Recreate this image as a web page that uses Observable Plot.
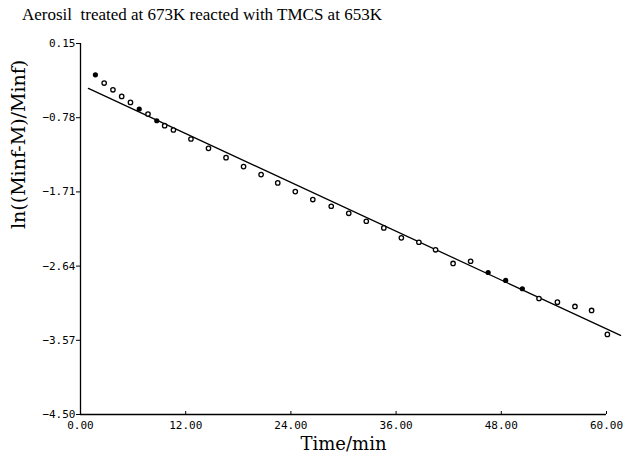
<!DOCTYPE html>
<html>
<head>
<meta charset="utf-8">
<script src="https://cdn.jsdelivr.net/npm/d3@7"></script>
<script src="https://cdn.jsdelivr.net/npm/@observablehq/plot@0.6"></script>
<style>
  html, body { margin: 0; padding: 0; background: #fff; }
  #wrap { width: 632px; height: 459px; position: relative; overflow: hidden; }
  #title { height: 30px; line-height: 30px; padding-left: 22px; white-space: pre;
           font-family: "Liberation Serif", serif; font-size: 17px; color: #000; }
</style>
</head>
<body>
<div id="wrap">
  <div id="title">Aerosil  treated at 673K reacted with TMCS at 653K</div>
  <div id="chart"></div>
</div>
<script>
// Measured data (time in min, ln((Minf-M)/Minf))
const times = [1.7, 2.7, 3.7, 4.7, 5.7, 6.7, 7.7, 8.7, 9.6, 10.6,
  12.6, 14.6, 16.6, 18.6, 20.6, 22.5, 24.5, 26.5, 28.6, 30.6,
  32.6, 34.6, 36.6, 38.6, 40.5, 42.5, 44.5, 46.5, 48.5, 50.4,
  52.3, 54.4, 56.4, 58.3, 60.1];
const values = [-0.242, -0.346, -0.430, -0.513, -0.588, -0.671, -0.734, -0.818, -0.880, -0.934,
  -1.047, -1.164, -1.281, -1.393, -1.493, -1.597, -1.706, -1.806, -1.890, -1.978,
  -2.078, -2.161, -2.286, -2.341, -2.436, -2.607, -2.579, -2.720, -2.820, -2.924,
  -3.046, -3.092, -3.146, -3.196, -3.496];
// which markers are drawn filled in the original
const filled = [1,0,0,0,0,1,0,1,0,0, 0,0,0,0,0,0,0,0,0,0, 0,0,0,0,0,0,0,1,1,1, 0,0,0,0,0];
// fitted line endpoints
const fitT = [0.9, 61.6];
const fitV = [-0.413, -3.509];
// tick labels
const xTicks = [0, 12, 24, 36, 48, 60];
const yTicks = [0.15, -0.78, -1.71, -2.64, -3.57, -4.50];
const xLabel = "Time/min";
const yLabel = "ln((Minf-M)/Minf)";

const pts = times.map((t, i) => ({t, v: values[i], f: filled[i] === 1}));
const fit = fitT.map((t, i) => ({t, v: fitV[i]}));

const chart = Plot.plot({
  width: 632,
  height: 429,
  marginLeft: 80,
  marginRight: 26,
  marginTop: 13,
  marginBottom: 45,
  style: {fontFamily: "DejaVu Sans Mono", fontSize: "11px", color: "#000", background: "#fff"},
  x: {domain: [0, 60]},
  y: {domain: [-4.5, 0.15]},
  marks: [
    Plot.axisX({ticks: xTicks, tickFormat: d3.format(".2f"), tickSize: -3, tickPadding: 10, label: null}),
    Plot.axisY({ticks: yTicks, tickFormat: d3.format(".2f"), tickSize: 4, tickPadding: 1, label: null}),
    Plot.ruleX([0], {stroke: "#000", strokeWidth: 1.3}),
    Plot.ruleY([-4.5], {stroke: "#000", strokeWidth: 1.3}),
    Plot.line(fit, {x: "t", y: "v", stroke: "#000", strokeWidth: 1.3}),
    Plot.dot(pts.filter(d => !d.f), {x: "t", y: "v", r: 2.2, stroke: "#000", strokeWidth: 1.3, fill: "#fff"}),
    Plot.dot(pts.filter(d => d.f), {x: "t", y: "v", r: 2.6, fill: "#000", stroke: "none"}),
    Plot.text([xLabel], {frameAnchor: "bottom", dy: 35, fontFamily: "DejaVu Serif", fontSize: 18, fill: "#000"}),
    Plot.text([yLabel], {frameAnchor: "left", rotate: -90, dx: -62, fontFamily: "DejaVu Serif", fontSize: 19, fill: "#000"})
  ]
});
document.getElementById("chart").appendChild(chart);
</script>
</body>
</html>
